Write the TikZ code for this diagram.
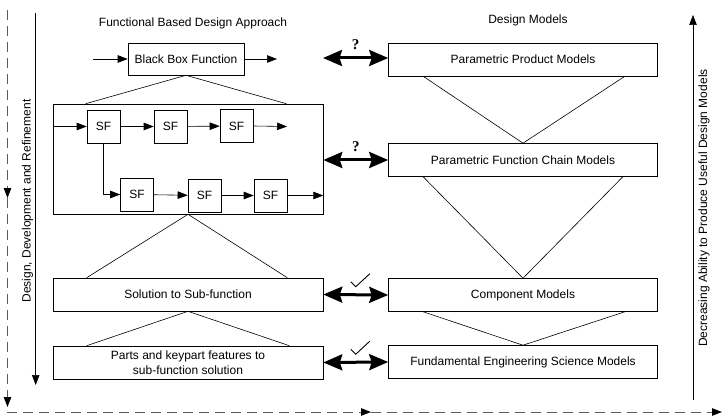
\documentclass[tikz,border=0pt]{standalone}
\usepackage{fontspec}
\setmainfont{Liberation Sans}
\newfontfamily\qfont{Liberation Serif}
\usetikzlibrary{arrows.meta,calc}

\tikzset{
  box/.style={draw, line width=0.6pt, inner sep=0pt, align=center,
              font=\fontsize{12}{15}\selectfont},
  wide/.style={box, minimum width=270pt, minimum height=33pt},
  model/.style={box, minimum width=269pt, minimum height=33pt},
  sfbox/.style={box, minimum width=33pt, minimum height=33pt},
  flow/.style={line width=0.6pt, -{Triangle[length=10pt,width=7.5pt]}},
  link/.style={line width=0.6pt},
  dbl/.style={line width=3pt, {Stealth[length=19pt,width=16pt,inset=2.5pt]}-{Stealth[length=19pt,width=16pt,inset=2.5pt]}},
  guide/.style={black!65, line width=0.9pt, dash pattern=on 10pt off 6pt,
                -{Triangle[length=10pt,width=7.5pt,color=black]}},
  axis/.style={line width=0.6pt, -{Triangle[length=10pt,width=7.5pt]}},
  heading/.style={font=\fontsize{12}{15}\selectfont},
  qmark/.style={font=\qfont\bfseries\fontsize{15}{17}\selectfont},
  check/.style={line width=0.9pt},
}

\begin{document}
\begin{tikzpicture}[x=1pt,y=-1pt]
\useasboundingbox (0,0) rectangle (723,417);

% column headings
\node[heading] (fhead) at (193,23) {Functional Based Design Approach};
\node[heading] (mhead) at (528,20) {Design Models};

% functional decomposition column
\node[box, minimum width=116pt, minimum height=32pt] (bb) at (186,59) {Black Box Function};
\coordinate (bbin) at (93,59);
\coordinate (bbout) at (277,59);
\draw[flow] (bbin) -- (bb.west);
\draw[flow] (bb.east) -- (bbout);

\node[draw, line width=0.6pt, minimum width=270pt, minimum height=110pt, inner sep=0pt] (chain) at (188,159) {};

\node[sfbox] (sf1) at (103.5,126.5) {SF};
\node[sfbox] (sf2) at (170.5,126.5) {SF};
\node[sfbox] (sf3) at (236.5,126) {SF};
\node[sfbox] (sf4) at (137,194.5) {SF};
\node[sfbox] (sf5) at (204.5,195.5) {SF};
\node[sfbox] (sf6) at (270.5,195.5) {SF};
\coordinate (sf3out) at (287,126.5);

\draw[flow] (chain.west |- sf1.west) -- (sf1.west);
\draw[flow] (sf1) -- (sf2);
\draw[flow] (sf2) -- (sf3);
\draw[flow] (sf3.east) -- (sf3out);
\draw[flow] (sf1.south) |- (sf4.west);
\draw[flow] (sf4) -- (sf5);
\draw[flow] (sf5) -- (sf6);
\draw[flow] (sf6.east) -- (chain.east |- sf6.east);

\draw[link] ([xshift=33pt]chain.north west) -- (bb.south) -- ([xshift=-37pt]chain.north east);

\node[wide] (sol) at (188,294.5) {Solution to Sub-function};
\node[wide] (parts) at (188,362.5) {Parts and keypart features to\\sub-function solution};

\draw[link] ([xshift=34pt]sol.north west) -- (chain.south) -- ([xshift=-36pt]sol.north east);
\draw[link] ([xshift=34pt]parts.north west) -- (sol.south) -- ([xshift=-34pt]parts.north east);

% design model column
\node[model] (ppm) at (523,59.5) {Parametric Product Models};
\node[model] (pfcm) at (523,160) {Parametric Function Chain Models};
\node[model] (comp) at (523,295) {Component Models};
\node[model] (fesm) at (523,362) {Fundamental Engineering Science Models};

\draw[link] ([xshift=35pt]ppm.south west) -- (pfcm.north) -- ([xshift=-33pt]ppm.south east);
\draw[link] ([xshift=35pt]pfcm.south west) -- (comp.north) -- ([xshift=-35pt]pfcm.south east);
\draw[link] ([xshift=35pt]comp.south west) -- (fesm.north) -- ([xshift=-33pt]comp.south east);

% correspondence between the two columns
\coordinate (q1) at (323,58);
\draw[dbl] (q1) -- (q1 -| ppm.west) node[midway, above=3pt, qmark] (qa) {?};
\draw[dbl] (chain.east |- pfcm.west) -- (pfcm.west) node[midway, above=3pt, qmark] (qb) {?};
\draw[dbl] (sol.east) -- (comp.west) coordinate[midway] (m3);
\draw[dbl] (parts.east) -- (fesm.west) coordinate[midway] (m4);
\draw[check] (m3) ++(-5,-13) -- ++(5,5) -- ++(14,-13);
\draw[check] (m4) ++(-5,-13) -- ++(5,5) -- ++(14,-13);

% process axes
\coordinate (dtop) at (35.7,13);
\coordinate (dbot) at (35.7,385);
\draw[axis] (dtop) -- (dbot);
\node[heading, rotate=90] (dlab) at (27.5,201) {Design, Development and Refinement};

\coordinate (abot) at (693,400);
\coordinate (atop) at (693,15);
\draw[axis] (abot) -- (atop);
\node[heading, rotate=90] (alab) at (704,208) {Decreasing Ability to Produce Useful Design Models};

\coordinate (g1) at (7.5,10);
\coordinate (g2) at (7.5,198);
\coordinate (g3) at (7.5,407);
\draw[guide] (g1) -- (g2);
\draw[guide] (g2) -- (g3);
\coordinate (h1) at (7,412);
\coordinate (h2) at (371,412);
\coordinate (h3) at (722,412);
\draw[guide] (h1) -- (h2);
\draw[guide] (h2) -- (h3);
\end{tikzpicture}
\end{document}
